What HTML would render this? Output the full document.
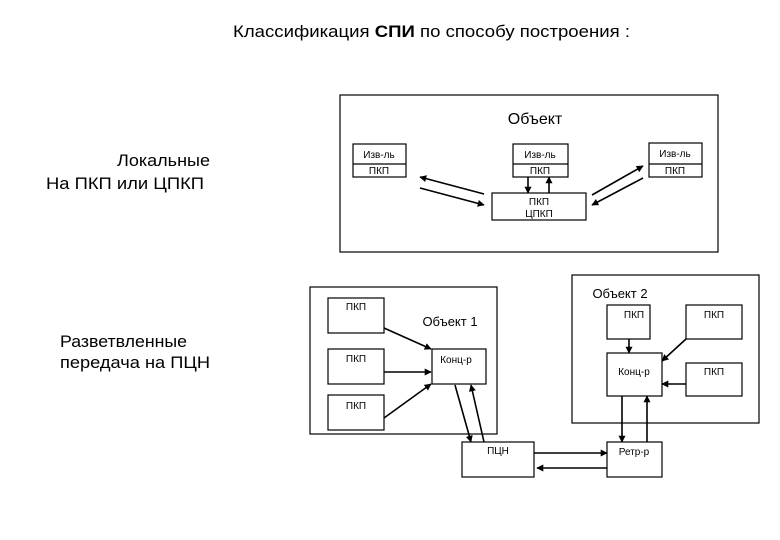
<!DOCTYPE html>
<html><head><meta charset="utf-8"><style>
html,body{margin:0;padding:0;background:#fff;}
svg{display:block;font-family:"Liberation Sans",sans-serif;}
</style></head><body>
<svg width="780" height="540" viewBox="0 0 780 540" xmlns="http://www.w3.org/2000/svg">
<defs>
<marker id="a" viewBox="0 0 10 10" refX="9" refY="5" markerWidth="7" markerHeight="7" orient="auto" markerUnits="userSpaceOnUse"><path d="M0,0 L10,5 L0,10 z" fill="#000"/></marker>
</defs>
<g fill="#000">
<text x="233" y="37" font-size="17" textLength="397" lengthAdjust="spacingAndGlyphs">Классификация <tspan font-weight="bold">СПИ</tspan>  по способу  построения :</text>
<text x="117" y="166" font-size="17" textLength="93" lengthAdjust="spacingAndGlyphs">Локальные</text>
<text x="46" y="189" font-size="17" textLength="158" lengthAdjust="spacingAndGlyphs">На ПКП или ЦПКП</text>
<text x="60" y="347" font-size="17" textLength="127" lengthAdjust="spacingAndGlyphs">Разветвленные</text>
<text x="60" y="368" font-size="17" textLength="150" lengthAdjust="spacingAndGlyphs">передача на  ПЦН</text>
</g>
<g fill="none" stroke="#000" stroke-width="1.2">
<rect x="340" y="95" width="378" height="157"/>
<rect x="353" y="144" width="53" height="33"/><line x1="353" y1="164" x2="406" y2="164"/>
<rect x="513" y="144" width="55" height="33"/><line x1="513" y1="164" x2="568" y2="164"/>
<rect x="649" y="143" width="53" height="34"/><line x1="649" y1="164" x2="702" y2="164"/>
<rect x="492" y="193" width="94" height="27"/>
<rect x="310" y="287" width="187" height="147"/>
<rect x="328" y="298" width="56" height="35"/>
<rect x="328" y="349" width="56" height="35"/>
<rect x="328" y="395" width="56" height="35"/>
<rect x="432" y="349" width="54" height="35"/>
<rect x="462" y="442" width="72" height="35"/>
<rect x="607" y="442" width="55" height="35"/>
<rect x="572" y="275" width="187" height="148"/>
<rect x="607" y="305" width="43" height="34"/>
<rect x="686" y="305" width="56" height="34"/>
<rect x="607" y="353" width="55" height="43"/>
<rect x="686" y="363" width="56" height="33"/>
</g>
<g stroke="#000" stroke-width="1.6" marker-end="url(#a)">
<line x1="484" y1="194" x2="420" y2="177"/>
<line x1="420" y1="188" x2="484" y2="205"/>
<line x1="528" y1="177" x2="528" y2="193"/>
<line x1="549" y1="193" x2="549" y2="177"/>
<line x1="592" y1="195" x2="643" y2="166"/>
<line x1="643" y1="178" x2="592" y2="205"/>
<line x1="384" y1="328" x2="431" y2="349"/>
<line x1="384" y1="372" x2="431" y2="372"/>
<line x1="384" y1="418" x2="431" y2="384"/>
<line x1="455" y1="385" x2="471" y2="442"/>
<line x1="484" y1="442" x2="471" y2="385"/>
<line x1="534" y1="453" x2="607" y2="453"/>
<line x1="607" y1="468" x2="537" y2="468"/>
<line x1="629" y1="339" x2="629" y2="353"/>
<line x1="686" y1="339" x2="662" y2="361"/>
<line x1="686" y1="384" x2="662" y2="384"/>
<line x1="622" y1="396" x2="622" y2="442"/>
<line x1="647" y1="442" x2="647" y2="396"/>
</g>
<g fill="#000" font-size="10" text-anchor="middle">
<text x="535" y="124" font-size="16">Объект</text>
<text x="379" y="158">Изв-ль</text><text x="379" y="174">ПКП</text>
<text x="540" y="158">Изв-ль</text><text x="540" y="174">ПКП</text>
<text x="675" y="157">Изв-ль</text><text x="675" y="174">ПКП</text>
<text x="539" y="205">ПКП</text><text x="539" y="217">ЦПКП</text>
<text x="356" y="310">ПКП</text>
<text x="356" y="362">ПКП</text>
<text x="356" y="409">ПКП</text>
<text x="450" y="326" font-size="13">Объект 1</text>
<text x="456" y="363">Конц-р</text>
<text x="498" y="454">ПЦН</text>
<text x="634" y="455">Ретр-р</text>
<text x="620" y="298" font-size="13">Объект 2</text>
<text x="634" y="318">ПКП</text>
<text x="714" y="318">ПКП</text>
<text x="634" y="375">Конц-р</text>
<text x="714" y="375">ПКП</text>
</g>
</svg>
</body></html>
